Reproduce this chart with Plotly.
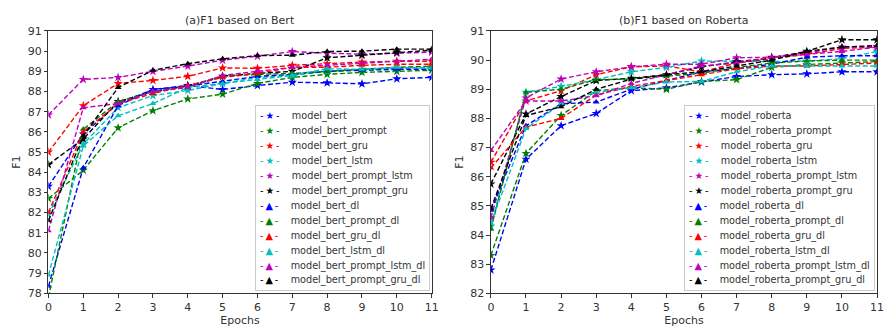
import plotly.graph_objects as go

epochs = list(range(12))

# ---- (a) Bert based models ----
bert = [83.3, 85.9, 87.4, 88.1, 88.3, 88.1, 88.3, 88.46, 88.43, 88.38, 88.63, 88.7]
bert_prompt = [82.7, 84.1, 86.2, 87.05, 87.63, 87.87, 88.4, 88.7, 88.85, 88.95, 89.0, 89.05]
bert_gru = [85.0, 87.3, 88.4, 88.55, 88.75, 89.17, 89.15, 89.3, 89.38, 89.46, 89.5, 89.5]
bert_lstm = [81.9, 85.4, 87.2, 87.8, 88.05, 88.4, 88.7, 88.8, 89.0, 89.1, 89.15, 89.2]
bert_prompt_lstm = [86.84, 88.6, 88.7, 89.0, 89.26, 89.55, 89.75, 89.98, 89.9, 89.85, 89.9, 89.95]
bert_prompt_gru = [84.38, 85.65, 87.5, 88.0, 88.27, 88.76, 88.9, 89.0, 89.67, 89.8, 89.95, 90.05]
bert_dl = [78.35, 84.22, 87.3, 88.1, 88.27, 88.5, 88.75, 88.85, 89.0, 89.05, 89.1, 89.1]
bert_prompt_dl = [77.8, 86.13, 87.5, 88.0, 88.2, 88.76, 88.85, 88.9, 89.0, 89.1, 89.2, 89.25]
bert_gru_dl = [82.0, 86.0, 87.4, 87.9, 88.3, 88.7, 88.9, 89.2, 89.2, 89.3, 89.35, 89.35]
bert_lstm_dl = [78.9, 85.3, 86.8, 87.4, 88.2, 88.4, 88.6, 88.8, 89.13, 89.1, 89.2, 89.15]
bert_prompt_lstm_dl = [81.1, 87.2, 87.4, 88.0, 88.2, 88.8, 89.0, 89.2, 89.3, 89.4, 89.5, 89.6]
bert_prompt_gru_dl = [81.6, 85.8, 88.2, 89.05, 89.38, 89.62, 89.78, 89.8, 89.98, 90.0, 90.1, 90.1]

# ---- (b) Roberta based models ----
roberta = [82.8, 86.6, 87.75, 88.17, 88.95, 89.05, 89.25, 89.44, 89.5, 89.53, 89.6, 89.6]
roberta_prompt = [83.3, 86.8, 88.1, 88.95, 89.05, 89.0, 89.27, 89.33, 89.75, 89.85, 89.9, 89.95]
roberta_gru = [86.5, 88.6, 88.95, 89.5, 89.77, 89.8, 89.6, 89.9, 90.05, 90.2, 90.4, 90.45]
roberta_lstm = [84.3, 88.9, 89.1, 89.33, 89.6, 89.75, 89.97, 89.95, 89.95, 89.97, 90.05, 90.3]
roberta_prompt_lstm = [84.6, 88.7, 89.35, 89.6, 89.77, 89.86, 89.86, 90.08, 90.1, 90.25, 90.45, 90.45]
roberta_prompt_gru = [85.75, 88.15, 88.75, 89.3, 89.38, 89.5, 89.77, 89.94, 90.08, 90.3, 90.7, 90.7]
roberta_dl = [84.85, 87.75, 88.5, 88.56, 89.0, 89.3, 89.6, 89.71, 89.86, 90.1, 90.15, 90.15]
roberta_prompt_dl = [84.2, 88.9, 89.0, 89.33, 89.35, 89.45, 89.55, 89.75, 89.9, 89.97, 90.0, 90.0]
roberta_gru_dl = [86.3, 87.7, 88.0, 88.8, 89.1, 89.3, 89.5, 89.7, 89.8, 89.8, 89.85, 89.9]
roberta_lstm_dl = [84.4, 87.65, 88.5, 88.9, 89.05, 89.25, 89.27, 89.6, 89.8, 89.8, 89.8, 89.8]
roberta_prompt_lstm_dl = [86.9, 88.6, 88.6, 88.78, 89.2, 89.5, 89.8, 89.9, 90.1, 90.2, 90.3, 90.45]
roberta_prompt_gru_dl = [84.9, 88.1, 88.4, 89.0, 89.35, 89.5, 89.6, 89.8, 90.0, 90.3, 90.45, 90.5]

bert_series = [
    ("model_bert", bert), ("model_bert_prompt", bert_prompt), ("model_bert_gru", bert_gru),
    ("model_bert_lstm", bert_lstm), ("model_bert_prompt_lstm", bert_prompt_lstm),
    ("model_bert_prompt_gru", bert_prompt_gru), ("model_bert_dl", bert_dl),
    ("model_bert_prompt_dl", bert_prompt_dl), ("model_bert_gru_dl", bert_gru_dl),
    ("model_bert_lstm_dl", bert_lstm_dl), ("model_bert_prompt_lstm_dl", bert_prompt_lstm_dl),
    ("model_bert_prompt_gru_dl", bert_prompt_gru_dl),
]
roberta_series = [
    ("model_roberta", roberta), ("model_roberta_prompt", roberta_prompt), ("model_roberta_gru", roberta_gru),
    ("model_roberta_lstm", roberta_lstm), ("model_roberta_prompt_lstm", roberta_prompt_lstm),
    ("model_roberta_prompt_gru", roberta_prompt_gru), ("model_roberta_dl", roberta_dl),
    ("model_roberta_prompt_dl", roberta_prompt_dl), ("model_roberta_gru_dl", roberta_gru_dl),
    ("model_roberta_lstm_dl", roberta_lstm_dl), ("model_roberta_prompt_lstm_dl", roberta_prompt_lstm_dl),
    ("model_roberta_prompt_gru_dl", roberta_prompt_gru_dl),
]

colors = ["#0000ff", "#008000", "#ff0000", "#00bfbf", "#bf00bf", "#000000"] * 2
symbols = ["star"] * 6 + ["triangle-up"] * 6
glyphs = ["\u2605"] * 6 + ["\u25B2"] * 6

W, H = 887, 332
FONT = "DejaVu Sans"
TXT = "#333333"

fig = go.Figure()

for (name, vals), c, s in zip(bert_series, colors, symbols):
    fig.add_trace(go.Scatter(
        x=epochs, y=vals, name=name, mode="lines+markers", xaxis="x", yaxis="y",
        line=dict(color=c, width=1.4, dash="5px,2.5px"),
        marker=dict(symbol=s, size=7 if s == "star" else 6, color=c),
        showlegend=False))
for (name, vals), c, s in zip(roberta_series, colors, symbols):
    fig.add_trace(go.Scatter(
        x=epochs, y=vals, name=name, mode="lines+markers", xaxis="x2", yaxis="y2",
        line=dict(color=c, width=1.4, dash="5px,2.5px"),
        marker=dict(symbol=s, size=7 if s == "star" else 6, color=c),
        showlegend=False))

ydom = [1 - 299 / H, 1 - 26 / H]
axis_common = dict(
    showline=True, mirror=True, linecolor=TXT, linewidth=1,
    ticks="outside", ticklen=3.5, tickwidth=0.8, tickcolor=TXT,
    showgrid=False, zeroline=False,
    tickfont=dict(family=FONT, size=11, color=TXT),
    title_font=dict(family=FONT, size=11, color=TXT),
)

fig.update_layout(
    width=W, height=H, margin=dict(l=0, r=0, t=0, b=0),
    paper_bgcolor="white", plot_bgcolor="white",
    font=dict(family=FONT, color=TXT),
    xaxis=dict(domain=[45 / W, 433 / W], range=[0, 11], dtick=1, anchor="y",
               title=dict(text="Epochs", standoff=2), **axis_common),
    yaxis=dict(domain=ydom, range=[78, 91], dtick=1, anchor="x",
               title=dict(text="F1", standoff=4), **axis_common),
    xaxis2=dict(domain=[493 / W, 884 / W], range=[0, 11], dtick=1, anchor="y2",
                title=dict(text="Epochs", standoff=2), **axis_common),
    yaxis2=dict(domain=ydom, range=[82, 91], dtick=1, anchor="x2",
                title=dict(text="F1", standoff=4), **axis_common),
)

# titles
for txt, xc in [("(a)F1 based on Bert", (45 + 433) / 2 / W), ("(b)F1 based on Roberta", (493 + 884) / 2 / W)]:
    fig.add_annotation(text=txt, xref="paper", yref="paper", x=xc, y=ydom[1],
                       xanchor="center", yanchor="bottom", yshift=2, showarrow=False,
                       font=dict(family=FONT, size=11, color=TXT))


def legend_text(series):
    lines = []
    for (name, _), c, g in zip(series, colors, glyphs):
        lines.append(
            f'<span style="font-size:9.7px"><span style="color:{c}">-\u2009{g}\u2009-</span>'
            f'\u00a0\u00a0\u00a0\u00a0{name}</span>')
    return "<br>".join(lines)


for series, xr in [(bert_series, 431 / W), (roberta_series, 882 / W)]:
    fig.add_annotation(text=legend_text(series), xref="paper", yref="paper",
                       x=xr, y=1 - 297 / H, xanchor="right", yanchor="bottom",
                       align="left", showarrow=False,
                       font=dict(family=FONT, size=11.5, color=TXT),
                       bgcolor="rgba(255,255,255,0.85)", bordercolor="#cccccc",
                       borderwidth=1, borderpad=4)

fig.write_html("out.html", config={"displayModeBar": False},
               post_script="document.body.style.margin='0';document.body.style.overflow='hidden';")
